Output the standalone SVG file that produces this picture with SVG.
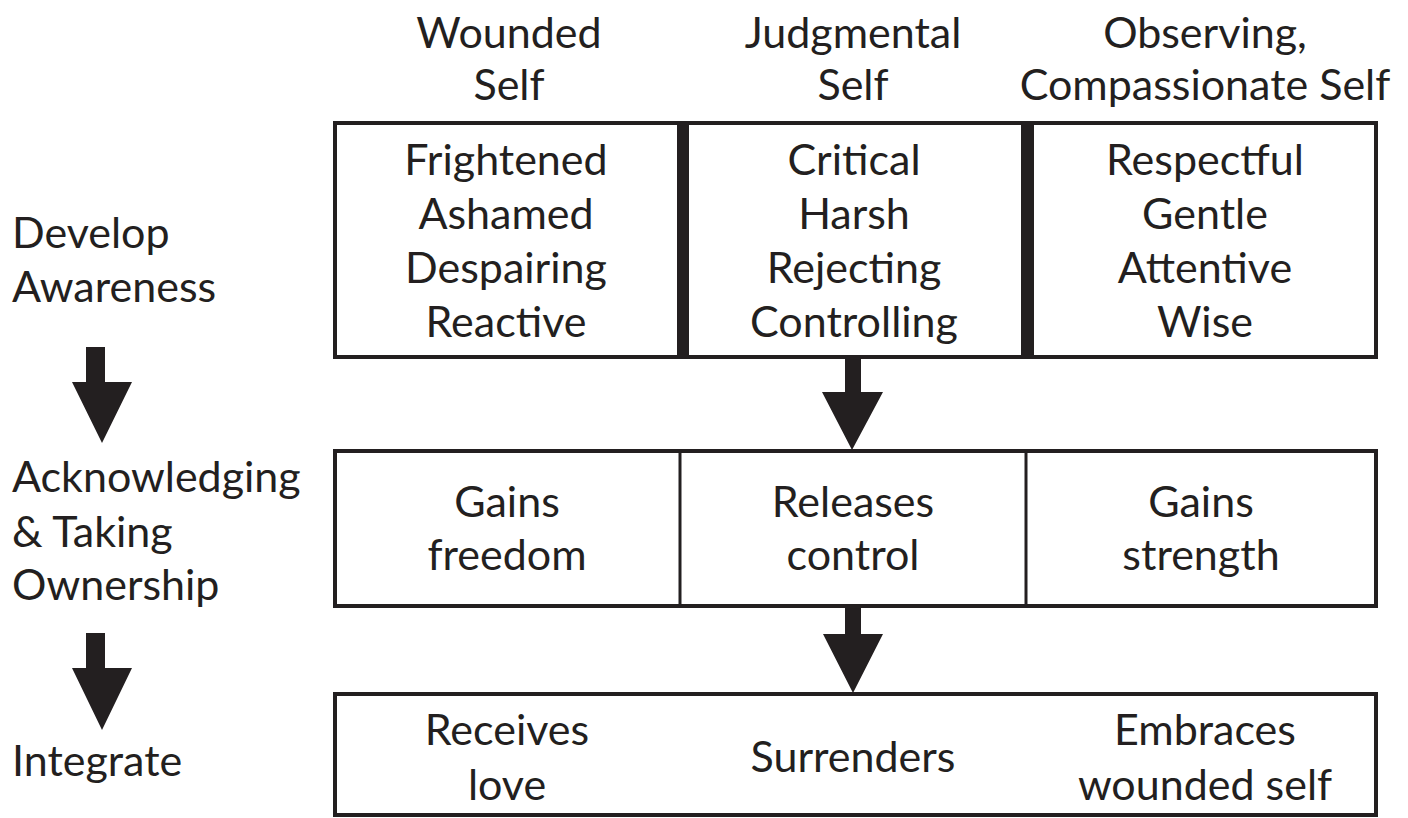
<svg xmlns="http://www.w3.org/2000/svg" width="1408" height="818" viewBox="0 0 1408 818">
<style>
text{font-family:Lato,"Open Sans","Liberation Sans",sans-serif;font-size:43px;fill:#231f20;text-anchor:middle}
.l{text-anchor:start}
.box{fill:#fff;stroke:#231f20;stroke-width:4}
.div{stroke:#231f20;stroke-width:3}
.bar{fill:#231f20}
.arr{fill:#231f20}
</style>
<rect width="1408" height="818" fill="#fff"/>
<g id="headers">
<text x="509" y="48">Wounded</text><text x="509" y="100">Self</text>
<text x="853" y="48">Judgmental</text><text x="853" y="100">Self</text>
<text x="1205" y="48">Observing,</text><text x="1205" y="100">Compassionate Self</text>
</g>
<g id="stage-labels">
<text class="l" x="12" y="248">Develop</text><text class="l" x="12" y="302">Awareness</text>
<text class="l" x="12" y="492">Acknowledging</text><text class="l" x="12" y="547">&amp; Taking</text><text class="l" x="12" y="600">Ownership</text>
<text class="l" x="12" y="776">Integrate</text>
</g>
<g id="row-awareness">
<rect class="box" x="335" y="123" width="1041" height="234"/>
<rect class="bar" x="677" y="123" width="12" height="234"/>
<rect class="bar" x="1021" y="123" width="13" height="234"/>
<text x="506" y="175">Frightened</text><text x="506" y="229">Ashamed</text><text x="506" y="283">Despairing</text><text x="506" y="337">Reactive</text>
<text x="854" y="175">Critical</text><text x="854" y="229">Harsh</text><text x="854" y="283">Rejecting</text><text x="854" y="337">Controlling</text>
<text x="1205" y="175">Respectful</text><text x="1205" y="229">Gentle</text><text x="1205" y="283">Attentive</text><text x="1205" y="337">Wise</text>
</g>
<g id="row-ownership">
<rect class="box" x="335" y="451" width="1041" height="155"/>
<line class="div" x1="680" y1="451" x2="680" y2="606"/>
<line class="div" x1="1026" y1="451" x2="1026" y2="606"/>
<text x="507" y="517">Gains</text><text x="507" y="570">freedom</text>
<text x="853" y="517">Releases</text><text x="853" y="570">control</text>
<text x="1201" y="517">Gains</text><text x="1201" y="570">strength</text>
</g>
<g id="row-integrate">
<rect class="box" x="335" y="694" width="1041" height="121"/>
<text x="507" y="745">Receives</text><text x="507" y="800">love</text>
<text x="853" y="772">Surrenders</text>
<text x="1205" y="745">Embraces</text><text x="1205" y="800">wounded self</text>
</g>
<g id="connectors">
<polygon class="arr" points="845,357 861,357 861,392 883,392 852,450 822,392 845,392"/>
<polygon class="arr" points="845,606 861,606 861,634 883,634 853,693 823,634 845,634"/>
<polygon class="arr" points="86,347 105,347 105,382 132,382 102,443 72,382 86,382"/>
<polygon class="arr" points="86,633 105,633 105,668 132,668 102,730 72,668 86,668"/>
</g>
</svg>
